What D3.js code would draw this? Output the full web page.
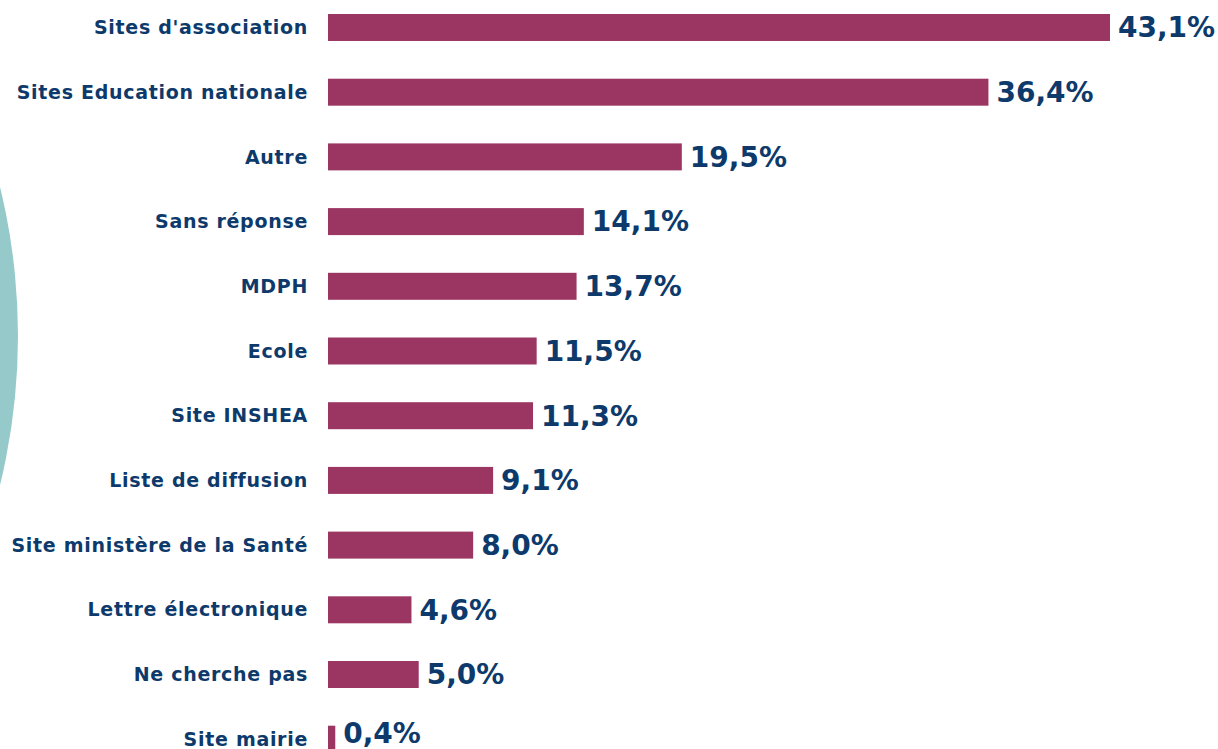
<!DOCTYPE html>
<meta charset="utf-8">
<style>
body { margin: 0; background: #fff; }
svg { display: block; }
.lbl { font-family: "Comic Sans MS", "DejaVu Sans", sans-serif; font-weight: bold; font-size: 19px; letter-spacing: 0.7px; fill: #0d3a6b; }
.val { font-family: "Comic Sans MS", "DejaVu Sans", sans-serif; font-weight: bold; font-size: 28px; fill: #0d3a6b; }
</style>
<svg width="1218" height="749"></svg>
<script src="https://cdn.jsdelivr.net/npm/d3@7"></script>
<script>
var categories = ["Sites d'association", "Sites Education nationale", "Autre", "Sans réponse", "MDPH",
  "Ecole", "Site INSHEA", "Liste de diffusion", "Site ministère de la Santé", "Lettre électronique",
  "Ne cherche pas", "Site mairie"];
var values = [43.1, 36.4, 19.5, 14.1, 13.7, 11.5, 11.3, 9.1, 8.0, 4.6, 5.0, 0.4];
var valueLabels = ["43,1%", "36,4%", "19,5%", "14,1%", "13,7%", "11,5%", "11,3%", "9,1%", "8,0%", "4,6%", "5,0%", "0,4%"];

var svg = d3.select("svg");

// teal decoration on the left edge
svg.append("circle")
    .attr("cx", -608)
    .attr("cy", 336)
    .attr("r", 626)
    .attr("fill", "#96caca");

var x = d3.scaleLinear()
    .domain([0, 43.1])
    .range([328, 1110]);

var y = d3.scaleBand()
    .domain(categories)
    .range([14, 752.7])
    .paddingInner(0.583)
    .paddingOuter(0);

var last = categories.length - 1;

var row = svg.selectAll("g.row")
    .data(categories)
    .enter().append("g")
    .attr("class", "row");

row.append("rect")
    .attr("x", x(0))
    .attr("y", function(d) { return y(d); })
    .attr("width", function(d, i) { return x(values[i]) - x(0); })
    .attr("height", y.bandwidth())
    .attr("fill", "#9b3562");

row.append("text")
    .attr("class", "lbl")
    .attr("x", 308)
    .attr("y", function(d) { return y(d) + y.bandwidth() / 2; })
    .attr("dy", "0.35em")
    .attr("text-anchor", "end")
    .text(function(d) { return d; });

// last row is cut by the picture's bottom edge, its value sits a bit higher
row.append("text")
    .attr("class", "val")
    .attr("x", function(d, i) { return x(values[i]) + 8; })
    .attr("y", function(d, i) { return y(d) + y.bandwidth() / 2 - (i == last ? 6 : 0); })
    .attr("dy", "0.35em")
    .text(function(d, i) { return valueLabels[i]; });
</script>
